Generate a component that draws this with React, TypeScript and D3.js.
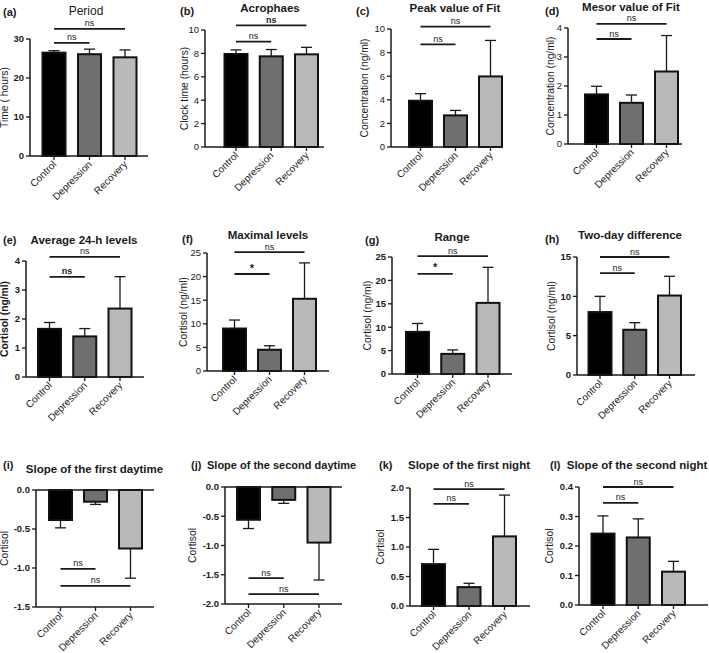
import React from "react";
import * as d3 from "d3";

const categories = ["Control", "Depression", "Recovery"];
const barColors = ["#000000", "#6f6f6f", "#b9b9b9"];

const titles = [
  "Period", "Acrophaes", "Peak value of Fit", "Mesor value of Fit",
  "Average 24-h levels", "Maximal levels", "Range", "Two-day difference",
  "Slope of the first daytime", "Slope of the second daytime",
  "Slope of the first night", "Slope of the second night",
];
const letters = ["(a)", "(b)", "(c)", "(d)", "(e)", "(f)", "(g)", "(h)", "(i)", "(j)", "(k)", "(l)"];
const yLabels = [
  "Time ( hours)", "Clock time (hours)", "Concentration (ng/ml)", "Concentration (ng/ml)",
  "Cortisol (ng/ml)", "Cortisol (ng/ml)", "Cortisol (ng/ml)", "Cortisol (ng/ml)",
  "Cortisol", "Cortisol", "Cortisol", "Cortisol",
];

// values (mean) and error (one-sided)
const periodMean = [26.5, 26.1, 25.3];
const periodErr = [0.5, 1.3, 1.9];
const acroMean = [7.95, 7.75, 7.92];
const acroErr = [0.35, 0.58, 0.6];
const peakMean = [3.92, 2.68, 5.98];
const peakErr = [0.6, 0.42, 3.05];
const mesorMean = [1.71, 1.42, 2.5];
const mesorErr = [0.28, 0.27, 1.24];
const avgMean = [1.66, 1.4, 2.36];
const avgErr = [0.22, 0.27, 1.1];
const maxMean = [9.0, 4.5, 15.3];
const maxErr = [1.8, 0.85, 7.6];
const rangeMean = [9.0, 4.3, 15.2];
const rangeErr = [1.8, 0.85, 7.6];
const diffMean = [8.0, 5.75, 10.1];
const diffErr = [2.0, 0.9, 2.45];
const slope1dMean = [-0.385, -0.15, -0.75];
const slope1dErr = [0.1, 0.035, 0.38];
const slope2dMean = [-0.56, -0.22, -0.95];
const slope2dErr = [0.15, 0.06, 0.64];
const slope1nMean = [0.71, 0.32, 1.18];
const slope1nErr = [0.25, 0.065, 0.7];
const slope2nMean = [0.242, 0.229, 0.113];
const slope2nErr = [0.06, 0.063, 0.035];

const means = [periodMean, acroMean, peakMean, mesorMean, avgMean, maxMean, rangeMean, diffMean, slope1dMean, slope2dMean, slope1nMean, slope2nMean];
const errs = [periodErr, acroErr, peakErr, mesorErr, avgErr, maxErr, rangeErr, diffErr, slope1dErr, slope2dErr, slope1nErr, slope2nErr];

const domains = [[0, 30], [0, 10], [0, 10], [0, 4], [0, 4], [0, 25], [0, 25], [0, 15], [-1.5, 0], [-2, 0], [0, 2], [0, 0.4]];
const ticksA = [0, 10, 20, 30];
const ticksB = [0, 2, 4, 6, 8, 10];
const ticksC = [0, 2, 4, 6, 8, 10];
const ticksD = [0, 1, 2, 3, 4];
const ticksE = [0, 1, 2, 3, 4];
const ticksF = [0, 5, 10, 15, 20, 25];
const ticksG = [0, 5, 10, 15, 20, 25];
const ticksH = [0, 5, 10, 15];
const ticksI = [0, -0.5, -1.0, -1.5];
const ticksJ = [0, -0.5, -1.0, -1.5, -2.0];
const ticksK = [0, 0.5, 1.0, 1.5, 2.0];
const ticksL = [0, 0.1, 0.2, 0.3, 0.4];
const ticks = [ticksA, ticksB, ticksC, ticksD, ticksE, ticksF, ticksG, ticksH, ticksI, ticksJ, ticksK, ticksL];
const decimals = [0, 0, 0, 0, 0, 0, 0, 0, 1, 1, 1, 1];

// brackets: [fromIdx, toIdx, level (data units), label, bold]
const brackets: [number, number, number, string, boolean][][] = [
  [[0, 2, 32.6, "ns", false], [0, 1, 29.0, "ns", false]],
  [[0, 2, 10.4, "ns", true], [0, 1, 9.0, "ns", false]],
  [[0, 2, 10.2, "ns", false], [0, 1, 8.7, "ns", false]],
  [[0, 2, 4.14, "ns", false], [0, 1, 3.62, "ns", false]],
  [[0, 2, 4.14, "ns", false], [0, 1, 3.45, "ns", true]],
  [[0, 2, 25.2, "ns", false], [0, 1, 20.55, "*", true]],
  [[0, 2, 25.2, "ns", false], [0, 1, 21.4, "*", true]],
  [[0, 2, 15.0, "ns", false], [0, 1, 12.96, "ns", false]],
  [[0, 1, -1.01, "ns", false], [0, 2, -1.23, "ns", false]],
  [[0, 1, -1.556, "ns", false], [0, 2, -1.83, "ns", false]],
  [[0, 2, 1.98, "ns", false], [0, 1, 1.73, "ns", false]],
  [[0, 2, 0.40, "ns", false], [0, 1, 0.346, "ns", false]],
];

// layout (pixels)
const layout = [
  { left: 30, right: 148, top: 39, bottom: 156, c0: 54, c2: 125, tx: 86, ty: 14.5, anchor: "middle", lx: 3, ly: 16, labOff: 22, tickBold: true, labBold: false, titleBold: false },
  { left: 205, right: 324, top: 30, bottom: 147, c0: 236, c2: 306.5, tx: 270, ty: 11.5, anchor: "middle", lx: 180, ly: 15, labOff: 17, tickBold: false, labBold: false, titleBold: true },
  { left: 391, right: 503, top: 29, bottom: 147, c0: 420.5, c2: 490.5, tx: 455, ty: 12, anchor: "middle", lx: 356, ly: 15, labOff: 23, tickBold: false, labBold: false, titleBold: true },
  { left: 568, right: 682, top: 28, bottom: 144, c0: 596.5, c2: 666.5, tx: 631, ty: 10.5, anchor: "middle", lx: 545, ly: 15, labOff: 14, tickBold: false, labBold: false, titleBold: true },
  { left: 26, right: 144, top: 261, bottom: 377, c0: 49.5, c2: 120, tx: 84, ty: 244, anchor: "middle", lx: 3, ly: 244, labOff: 18, tickBold: true, labBold: true, titleBold: true },
  { left: 207, right: 329, top: 253, bottom: 371, c0: 234.5, c2: 304.5, tx: 268, ty: 239, anchor: "middle", lx: 182, ly: 243, labOff: 20, tickBold: false, labBold: false, titleBold: true },
  { left: 392, right: 512, top: 257, bottom: 374, c0: 417.5, c2: 488, tx: 452, ty: 241, anchor: "middle", lx: 365, ly: 244, labOff: 21, tickBold: true, labBold: false, titleBold: true },
  { left: 577, right: 695, top: 257, bottom: 375, c0: 600, c2: 669.5, tx: 630, ty: 239, anchor: "middle", lx: 545, ly: 243, labOff: 22, tickBold: true, labBold: false, titleBold: true },
  { left: 36, right: 154, top: 490, bottom: 607, c0: 60.5, c2: 130.5, tx: 94.5, ty: 473, anchor: "middle", lx: 3, ly: 469, labOff: 28, tickBold: true, labBold: false, titleBold: true },
  { left: 225, right: 342, top: 487, bottom: 604, c0: 248.5, c2: 319, tx: 207, ty: 469, anchor: "start", lx: 191, ly: 469, labOff: 29, tickBold: true, labBold: false, titleBold: true },
  { left: 410, right: 530, top: 488, bottom: 606, c0: 433.5, c2: 504.5, tx: 469, ty: 469, anchor: "middle", lx: 379, ly: 469, labOff: 26, tickBold: true, labBold: false, titleBold: true },
  { left: 579, right: 708, top: 487, bottom: 605, c0: 603, c2: 673.5, tx: 637, ty: 469, anchor: "middle", lx: 550, ly: 469, labOff: 26, tickBold: true, labBold: false, titleBold: true },
];

const FONT = "Arial, 'Liberation Sans', Helvetica, sans-serif";
const INK = "#1a1a1a";

function Panel({ i }: { i: number }) {
  const L = layout[i];
  const [dmin, dmax] = domains[i];
  const y = d3.scaleLinear().domain([dmin, dmax]).range([L.bottom, L.top]);
  const x = d3.scalePoint<string>().domain(categories).range([L.c0, L.c2]);
  const bw = 23;
  const cap = 11;
  const y0 = y(0);
  const axisY = y(dmin);
  const fmt = (v: number) => v.toFixed(decimals[i]);
  const midY = (L.top + L.bottom) / 2;
  const titleSize = i === 0 ? 12 : i === 9 ? 11 : 11.5;
  return (
    <g fontFamily={FONT}>
      {/* title */}
      <text x={L.lx} y={L.ly} fontSize={11} fontWeight="bold" fill={INK}>{letters[i]}</text>
      <text x={L.tx} y={L.ty} fontSize={titleSize} fontWeight={L.titleBold ? "bold" : "normal"} textAnchor={L.anchor} fill={INK}>{titles[i]}</text>
      {/* bars */}
      {categories.map((c, k) => {
        const v = means[i][k];
        const e = errs[i][k];
        const cx = x(c) as number;
        const yv = y(v);
        const ye = y(v >= 0 ? v + e : v - e);
        return (
          <g key={c}>
            <line x1={cx} x2={cx} y1={yv} y2={ye} stroke={INK} strokeWidth={1.3} />
            <line x1={cx - cap / 2} x2={cx + cap / 2} y1={ye} y2={ye} stroke={INK} strokeWidth={1.3} />
            <rect x={cx - bw / 2} y={Math.min(yv, y0)} width={bw} height={Math.abs(y0 - yv)} fill={barColors[k]} stroke="#111" strokeWidth={2} />
          </g>
        );
      })}
      {/* zero line for negative panels */}
      {dmin < 0 && <line x1={L.left} x2={L.right} y1={y0} y2={y0} stroke={INK} strokeWidth={1.5} />}
      {/* y axis */}
      <line x1={L.left} x2={L.left} y1={L.top} y2={L.bottom} stroke={INK} strokeWidth={1.5} />
      {ticks[i].map((t) => (
        <g key={t}>
          <line x1={L.left - 4} x2={L.left} y1={y(t)} y2={y(t)} stroke={INK} strokeWidth={1.3} />
          <text x={L.left - 6} y={y(t)} dy="0.35em" fontSize={9.5} fontWeight={L.tickBold ? "bold" : "normal"} textAnchor="end" fill={INK}>{fmt(t)}</text>
        </g>
      ))}
      <text transform={`translate(${L.left - L.labOff},${midY}) rotate(-90)`} fontSize={10.3} fontWeight={L.labBold ? "bold" : "normal"} textAnchor="middle" fill={INK}>{yLabels[i]}</text>
      {/* x axis */}
      <line x1={L.left} x2={L.right} y1={axisY} y2={axisY} stroke={INK} strokeWidth={1.5} />
      {categories.map((c) => {
        const cx = x(c) as number;
        return (
          <g key={c}>
            <line x1={cx} x2={cx} y1={axisY} y2={axisY + 4} stroke={INK} strokeWidth={1.3} />
            <text transform={`translate(${cx + 3},${axisY + 9}) rotate(-45)`} fontSize={10} textAnchor="end" fill={INK}>{c}</text>
          </g>
        );
      })}
      {/* significance brackets */}
      {brackets[i].map(([a, b, lvl, lab, bold], k) => {
        const xa = x(categories[a]) as number;
        const xb = x(categories[b]) as number;
        const yy = y(lvl);
        return (
          <g key={k}>
            <line x1={xa} x2={xb} y1={yy} y2={yy} stroke={INK} strokeWidth={1.8} />
            <text x={(xa + xb) / 2} y={yy - 2.5} fontSize={lab === "*" ? 11 : 9} fontWeight={bold ? "bold" : "normal"} textAnchor="middle" fill={INK}>{lab}</text>
          </g>
        );
      })}
    </g>
  );
}

export default function App() {
  return (
    <svg width={709} height={653} style={{ position: "absolute", left: 0, top: 0, background: "#fff" }}>
      <rect width={709} height={653} fill="#fff" />
      {titles.map((_, i) => <Panel key={i} i={i} />)}
    </svg>
  );
}
